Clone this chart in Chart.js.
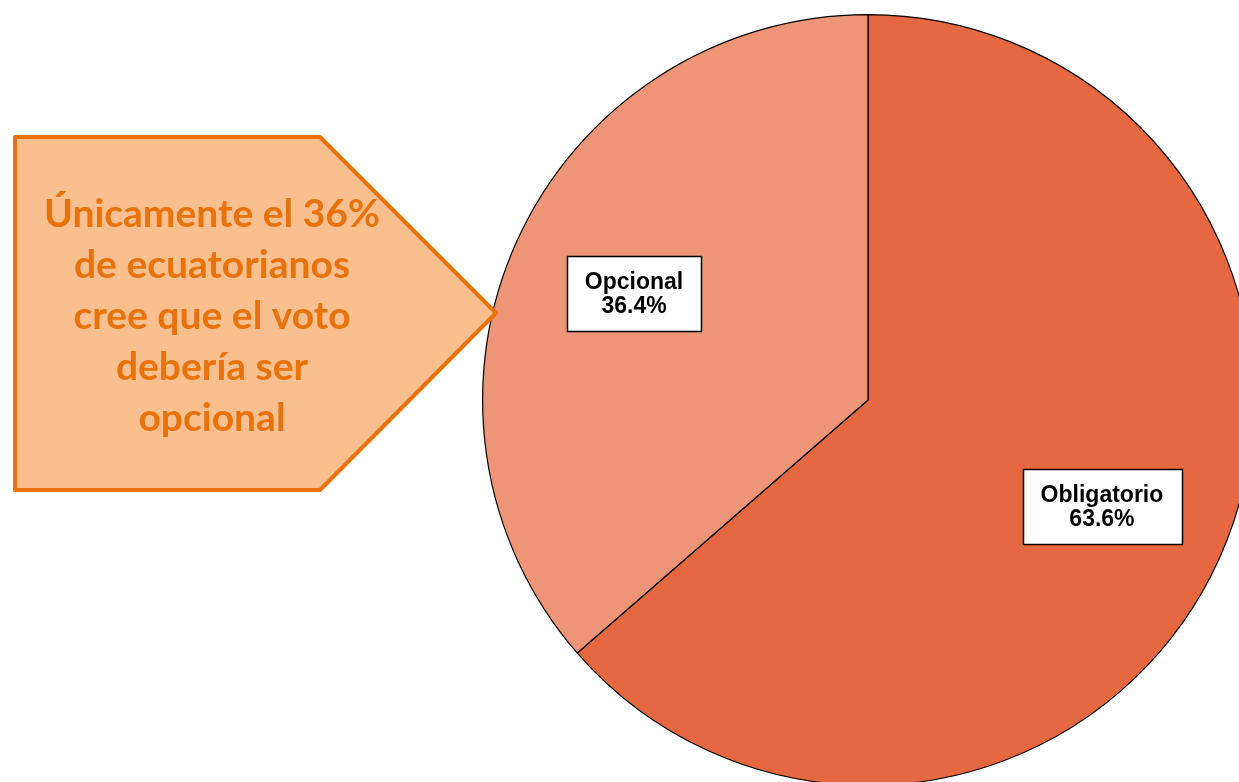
<!DOCTYPE html>
<html lang="es">
<head>
<meta charset="utf-8">
<title>Voto obligatorio u opcional</title>
<script src="https://cdn.jsdelivr.net/npm/chart.js@4/dist/chart.umd.min.js"></script>
<style>
  html, body { margin: 0; padding: 0; background: #fff; overflow: hidden; width: 1239px; height: 782px; }
  #chartCanvas { position: absolute; left: 0; top: 0; }
</style>
</head>
<body>
<canvas id="chartCanvas" width="1260" height="800"></canvas>
<script>
const categories = ['Obligatorio', 'Opcional'];
const percentages = [63.6, 36.4];
const sliceColors = ['#E66841', '#EE9578'];
const calloutLines = ['Únicamente el 36%', 'de ecuatorianos', 'cree que el voto', 'debería ser', 'opcional'];

// white boxed labels inside each slice
const sliceLabels = {
  id: 'sliceLabels',
  afterDatasetsDraw(chart) {
    const ctx = chart.ctx;
    const meta = chart.getDatasetMeta(0);
    ctx.save();
    ctx.font = 'bold 23px "Liberation Sans", Arial, sans-serif';
    ctx.textAlign = 'center';
    ctx.textBaseline = 'middle';
    meta.data.forEach((arc, i) => {
      const p = arc.getProps(['x', 'y', 'startAngle', 'endAngle', 'outerRadius'], true);
      const mid = (p.startAngle + p.endAngle) / 2;
      const r = p.outerRadius * 0.667;
      const cx = p.x + Math.cos(mid) * r;
      const cy = p.y + Math.sin(mid) * r;
      const l1 = categories[i];
      const l2 = percentages[i].toFixed(1) + '%';
      const w = Math.max(ctx.measureText(l1).width, ctx.measureText(l2).width) + 36;
      const h = 75;
      ctx.fillStyle = '#fff';
      ctx.fillRect(Math.round(cx - w / 2), Math.round(cy - h / 2), Math.round(w), h);
      ctx.strokeStyle = '#000';
      ctx.lineWidth = 1.5;
      ctx.strokeRect(Math.round(cx - w / 2) + 0.5, Math.round(cy - h / 2) + 0.5, Math.round(w), h);
      ctx.fillStyle = '#000';
      ctx.fillText(l1, cx, cy - 11);
      ctx.fillText(l2, cx, cy + 13);
    });
    ctx.restore();
  }
};

// arrow-shaped note on the left
const callout = {
  id: 'callout',
  afterDraw(chart) {
    const ctx = chart.ctx;
    ctx.save();
    ctx.beginPath();
    ctx.moveTo(15, 137);
    ctx.lineTo(320, 137);
    ctx.lineTo(496, 313);
    ctx.lineTo(320, 490);
    ctx.lineTo(15, 490);
    ctx.closePath();
    ctx.fillStyle = '#F9BF8F';
    ctx.fill();
    ctx.lineWidth = 4;
    ctx.lineJoin = 'round';
    ctx.strokeStyle = '#E8720C';
    ctx.stroke();
    ctx.fillStyle = '#E8720C';
    ctx.font = 'bold 39px Lato, "Open Sans", sans-serif';
    ctx.textAlign = 'center';
    ctx.textBaseline = 'middle';
    calloutLines.forEach((t, i) => {
      ctx.fillText(t, 212, 214 + i * 51.2);
    });
    ctx.restore();
  }
};

const chart = new Chart(document.getElementById('chartCanvas'), {
  type: 'pie',
  data: {
    labels: categories,
    datasets: [{
      data: percentages,
      backgroundColor: sliceColors,
      borderColor: '#000',
      borderWidth: 1.2
    }]
  },
  options: {
    responsive: false,
    animation: false,
    layout: { padding: { left: 482, top: 14, right: 6, bottom: 14 } },
    plugins: {
      legend: { display: false },
      tooltip: { enabled: false }
    }
  },
  plugins: [sliceLabels, callout]
});
</script>
</body>
</html>
